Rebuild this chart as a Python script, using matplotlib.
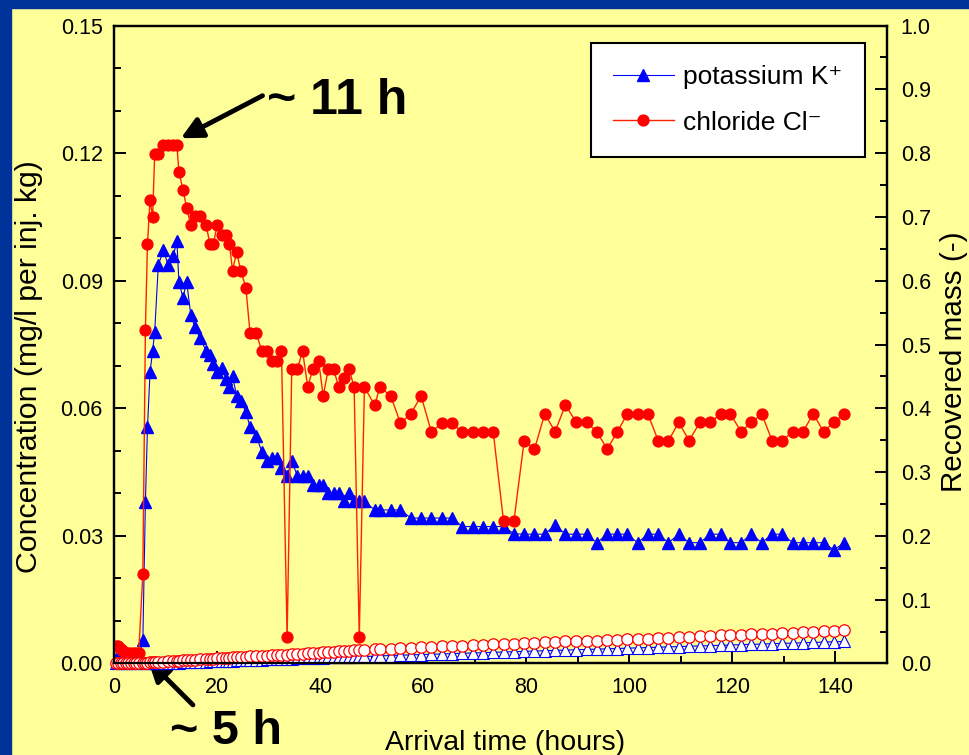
import matplotlib.pyplot as plt
from matplotlib.patches import Rectangle
from matplotlib.ticker import MultipleLocator, FormatStrFormatter

plt.rcParams['font.family'] = ['Liberation Sans', 'DejaVu Sans']

# sampling times (hours)
hours = [0.3, 0.8, 1.3, 1.8, 2.3, 2.8, 3.3, 3.8, 4.3, 4.8,
         5.6, 6.1, 6.5, 7.0, 7.5, 7.9, 8.6, 9.6, 10.5, 11.5,
         12.2, 12.6, 13.4, 14.1, 14.9, 15.7, 16.7, 17.9, 18.6, 19.3,
         20.0, 20.9, 21.7, 22.4, 23.0, 23.8, 24.6, 25.6, 26.4, 27.6,
         28.7, 29.6, 30.7, 31.7, 32.5, 33.6, 34.5, 35.6, 36.6, 37.6,
         38.6, 39.7, 40.6, 41.6, 42.6, 43.6, 44.6, 45.6, 46.6, 47.6,
         48.6, 50.6, 51.6, 53.7, 55.6, 57.6, 59.6, 61.6, 63.6, 65.6,
         67.6, 69.6, 71.6, 73.6, 75.6, 77.6, 79.6, 81.6, 83.6, 85.6,
         87.6, 89.7, 91.7, 93.7, 95.7, 97.7, 99.6, 101.6, 103.6, 105.6,
         107.6, 109.6, 111.6, 113.7, 115.7, 117.7, 119.6, 121.7, 123.7, 125.7,
         127.7, 129.7, 131.7, 133.7, 135.7, 137.7, 139.7, 141.7]

# concentration (mg/l per inj. kg)
potassium = [0.001, 0.001, 0.001, 0.001, 0.001, 0.001, 0.001, 0.001, 0.001, 0.001,
             0.0055, 0.038, 0.0555, 0.0685, 0.0735, 0.078, 0.0936, 0.0973, 0.0936, 0.0957,
             0.0994, 0.0898, 0.0859, 0.0898, 0.082, 0.079, 0.0765, 0.0735, 0.0725, 0.0705,
             0.0685, 0.0695, 0.067, 0.065, 0.0675, 0.063, 0.0616, 0.0592, 0.0556, 0.0535,
             0.0498, 0.0477, 0.0483, 0.0483, 0.0459, 0.044, 0.0477, 0.044, 0.044, 0.044,
             0.042, 0.042, 0.042, 0.040, 0.040, 0.040, 0.0381, 0.040, 0.0381, 0.0381,
             0.0381, 0.0361, 0.0361, 0.0361, 0.0361, 0.0342, 0.0342, 0.0342, 0.0342, 0.0342,
             0.0322, 0.0322, 0.0322, 0.0322, 0.0322, 0.0305, 0.0304, 0.0304, 0.0304, 0.0326,
             0.0304, 0.0304, 0.0304, 0.0284, 0.0304, 0.0304, 0.0304, 0.0284, 0.0304, 0.0304,
             0.0284, 0.0304, 0.0284, 0.0284, 0.0304, 0.0304, 0.0284, 0.0284, 0.0304, 0.0284,
             0.0304, 0.0304, 0.0284, 0.0284, 0.0284, 0.0284, 0.0267, 0.0284]

chloride = [0.004, 0.004, 0.0035, 0.003, 0.0025, 0.0025, 0.0025, 0.0025, 0.0025, 0.0025,
            0.021, 0.0785, 0.0987, 0.109, 0.105, 0.1198, 0.1198, 0.122, 0.122, 0.122,
            0.122, 0.1156, 0.1114, 0.1071, 0.103, 0.1051, 0.1051, 0.103, 0.0987, 0.0987,
            0.103, 0.1008, 0.1008, 0.0987, 0.0924, 0.0967, 0.0924, 0.0883, 0.0777, 0.0777,
            0.0734, 0.0734, 0.0712, 0.0712, 0.0734, 0.0062, 0.0693, 0.0693, 0.0734, 0.065,
            0.0693, 0.0712, 0.0629, 0.0693, 0.0693, 0.065, 0.0671, 0.0693, 0.065, 0.0062,
            0.065, 0.0607, 0.065, 0.0629, 0.0565, 0.0587, 0.0629, 0.0544, 0.0565, 0.0565,
            0.0544, 0.0544, 0.0544, 0.0544, 0.0334, 0.0334, 0.0524, 0.0504, 0.0587, 0.0545,
            0.0608, 0.0567, 0.0567, 0.0545, 0.0504, 0.0545, 0.0587, 0.0587, 0.0587, 0.0524,
            0.0524, 0.0567, 0.0524, 0.0567, 0.0567, 0.0587, 0.0587, 0.0545, 0.0567, 0.0587,
            0.0524, 0.0524, 0.0545, 0.0545, 0.0587, 0.0545, 0.0567, 0.0587]

# recovered mass (-), right axis
potassium_mass = [0.0, 0.0, 0.0, 0.0, 0.0, 0.0, 0.0, 0.0, 0.0, 0.0,
                  0.0, 0.0, 0.0005, 0.0005, 0.0005, 0.0005, 0.001, 0.001, 0.001, 0.0015,
                  0.0015, 0.0015, 0.002, 0.002, 0.0025, 0.0025, 0.003, 0.003, 0.0035, 0.0035,
                  0.004, 0.004, 0.0045, 0.0045, 0.0045, 0.005, 0.005, 0.0055, 0.0055, 0.006,
                  0.006, 0.0065, 0.0065, 0.007, 0.007, 0.0075, 0.0075, 0.008, 0.008, 0.0085,
                  0.0085, 0.009, 0.009, 0.0095, 0.0095, 0.01, 0.01, 0.0105, 0.0105, 0.011,
                  0.011, 0.0115, 0.012, 0.0125, 0.013, 0.0135, 0.014, 0.0145, 0.015, 0.0155,
                  0.016, 0.0165, 0.017, 0.0175, 0.018, 0.0185, 0.019, 0.0195, 0.02, 0.0205,
                  0.021, 0.0215, 0.022, 0.0225, 0.023, 0.0235, 0.024, 0.0245, 0.025, 0.0255,
                  0.026, 0.0265, 0.027, 0.0275, 0.028, 0.0285, 0.029, 0.0295, 0.03, 0.0305,
                  0.031, 0.0315, 0.032, 0.0325, 0.033, 0.0335, 0.034, 0.0345]

chloride_mass = [0.0, 0.0, 0.0, 0.0, 0.0, 0.0, 0.0005, 0.0005, 0.0005, 0.001,
                 0.001, 0.001, 0.0015, 0.002, 0.002, 0.0025, 0.003, 0.003, 0.0035, 0.004,
                 0.0045, 0.0045, 0.005, 0.0055, 0.0055, 0.006, 0.0065, 0.007, 0.0075, 0.0075,
                 0.008, 0.0085, 0.009, 0.009, 0.0095, 0.0095, 0.01, 0.0105, 0.011, 0.0115,
                 0.012, 0.0125, 0.013, 0.0135, 0.014, 0.014, 0.0145, 0.015, 0.0155, 0.016,
                 0.0165, 0.017, 0.0175, 0.018, 0.0185, 0.019, 0.0195, 0.02, 0.0205, 0.0205,
                 0.021, 0.022, 0.0225, 0.023, 0.024, 0.025, 0.0255, 0.026, 0.027, 0.0275,
                 0.028, 0.029, 0.0295, 0.03, 0.0305, 0.031, 0.0315, 0.0325, 0.033, 0.034,
                 0.0345, 0.035, 0.0355, 0.036, 0.037, 0.0375, 0.038, 0.0385, 0.039, 0.04,
                 0.0405, 0.041, 0.042, 0.0425, 0.043, 0.044, 0.0445, 0.045, 0.046, 0.0465,
                 0.047, 0.048, 0.0485, 0.049, 0.05, 0.0505, 0.051, 0.052]

yellow = '#FFFF99'
fig = plt.figure(figsize=(9.7, 7.55), dpi=100, facecolor=yellow)
# dark blue slide frame, top and left
fig.patches.append(Rectangle((0, 1 - 8 / 755), 1, 8 / 755, transform=fig.transFigure,
                             color='#003399', zorder=0))
fig.patches.append(Rectangle((0, 0), 11 / 970, 1, transform=fig.transFigure,
                             color='#003399', zorder=0))

ax = fig.add_axes([0.1175, 0.1212, 0.7969, 0.8450])
ax.set_facecolor(yellow)
ax2 = ax.twinx()
ax2.patch.set_visible(False)

ax.plot(hours, potassium, color='#0000FF', lw=0.8, marker='^', ms=8.3,
        mec='#0000FF', mfc='#0000FF', label='potassium K\u207a', zorder=3)
ax.plot(hours, chloride, color='#FF2200', lw=1.0, marker='o', ms=7.8,
        mec='#FF0000', mfc='#FF0000', label='chloride Cl\u207b', zorder=4)

ax2.plot(hours, potassium_mass, color='#0000FF', lw=0.8, marker='^', ms=8,
         mec='#0000FF', mfc='white', mew=0.8, clip_on=False)
ax2.plot(hours, chloride_mass, color='#FF0000', lw=0.8, marker='o', ms=8.2,
         mec='#FF0000', mfc='white', mew=0.9, clip_on=False)

ax.set_xlim(0, 150)
ax.set_ylim(0, 0.15)
ax2.set_ylim(0, 1.0)
ax.xaxis.set_major_locator(MultipleLocator(20))
ax.xaxis.set_minor_locator(MultipleLocator(10))
ax.yaxis.set_major_locator(MultipleLocator(0.03))
ax.yaxis.set_minor_locator(MultipleLocator(0.01))
ax.yaxis.set_major_formatter(FormatStrFormatter('%.2f'))
ax2.yaxis.set_major_locator(MultipleLocator(0.1))
ax2.yaxis.set_minor_locator(MultipleLocator(0.05))
ax2.yaxis.set_major_formatter(FormatStrFormatter('%.1f'))

for a in (ax, ax2):
    for s in a.spines.values():
        s.set_linewidth(1.6)
ax.tick_params(which='both', direction='in', width=1.4, top=False, right=False,
               labelsize=15.5, colors='black')
ax.tick_params(which='major', length=8.5)
ax.tick_params(which='minor', length=5)
ax.tick_params(axis='y', pad=8)
ax.tick_params(axis='x', pad=10)
ax2.tick_params(which='both', direction='in', width=1.4, labelsize=15.5)
ax2.tick_params(which='major', length=8.5, pad=10)
ax2.tick_params(which='minor', length=5)

fig.text(29 / 970, 1 - 367 / 755, 'Concentration (mg/l per inj. kg)', rotation=90,
         ha='center', va='center', fontsize=21.8)
fig.text(954 / 970, 1 - 362 / 755, 'Recovered mass (-)', rotation=90,
         ha='center', va='center', fontsize=21.3)
fig.text(505 / 970, 5 / 755, 'Arrival time (hours)', ha='center', va='baseline',
         fontsize=20.5)

leg = ax.legend(loc='upper right', bbox_to_anchor=(0.971, 0.9726), borderaxespad=0,
                fontsize=19, fancybox=False, framealpha=1, edgecolor='black',
                handlelength=2.3, handletextpad=0.35, labelspacing=0.8, borderpad=0.85)
leg.get_frame().set_linewidth(1.5)

# arrival annotations
fig.text(337 / 970, 1 - 101 / 755, '~ 11 h', ha='center', va='center',
         fontsize=36, fontweight='bold')
ax.annotate('', xy=(12.5, 0.1232), xytext=(29.3, 0.1338),
            arrowprops=dict(arrowstyle='-|>', lw=3.5, color='black', mutation_scale=32),
            annotation_clip=False)
fig.text(226 / 970, 11 / 755, '~ 5 h', ha='center', va='baseline',
         fontsize=35, fontweight='bold')
ax.annotate('', xy=(6.2, 0.0013), xytext=(15.7, -0.0102),
            arrowprops=dict(arrowstyle='-|>', lw=3.5, color='black', mutation_scale=32),
            annotation_clip=False)

fig.savefig('out.png', dpi=100, facecolor=yellow)
